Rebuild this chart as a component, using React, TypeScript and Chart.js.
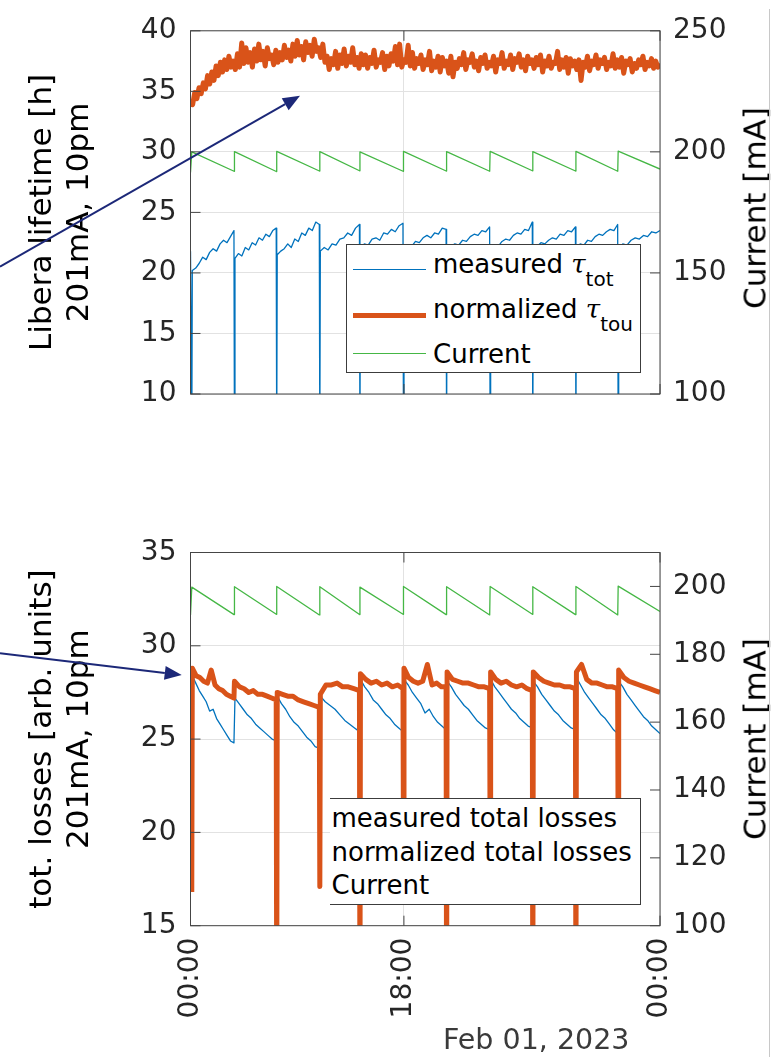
import React, { useEffect, useRef } from 'react';
import { Chart, registerables } from 'chart.js';

Chart.register(...registerables);

const FONT = "'DejaVu Sans', sans-serif";
const BLUE = '#0072BD';
const ORANGE = '#D95319';
const GREEN = '#45B745';
const GRID = '#e2e2e2';
const TICK = '#262626';
const FRAME = '#454545';
const NAVY = '#1c2878';

// ---------------- data ----------------
const END_HOUR = 11;
const xTickHours = [0, 5, 11];
const xTickLabels = ['00:00', '18:00', '00:00'];

// top-up injection instants (hours from left edge)
const injectionHours = [0.03, 1.03, 2.02, 3.03, 3.97, 4.99, 6.0, 7.02, 8.02, 9.03, 10.02];

// top panel: current (right axis)
const currentTopPeaks = [200.0, 200.1, 200.2, 200.1, 200.0, 200.2, 200.1, 200.2, 200.1, 200.2, 200.3];
const currentTopTroughs = [191.5, 192.0, 191.9, 192.1, 192.2, 192.0, 192.1, 192.0, 192.2, 192.1, 192.0];
const currentTopEnd = 192.9;

// top panel: measured lifetime, one array per top-up cycle
const lifetimeMeasuredStart = 21.8;
const lifetimeMeasuredDips = [6, 6, 6, 6, 6, 6, 6, 6, 6, 6, 6];
const lifetimeMeasuredC0 = [20.2, 20.4, 20.8, 21.3, 21.1, 21.7, 22.0, 21.8, 22.4, 22.7, 22.5, 23.0, 23.5];
const lifetimeMeasuredC1 = [21.2, 21.6, 21.4, 22.1, 21.9, 22.5, 22.3, 22.9, 22.7, 23.2, 23.0, 23.5, 23.7];
const lifetimeMeasuredC2 = [21.5, 21.8, 22.0, 22.4, 22.1, 22.8, 22.6, 23.3, 23.1, 23.7, 23.5, 24.2, 24.0];
const lifetimeMeasuredC3 = [21.8, 22.1, 21.9, 22.4, 22.3, 22.8, 22.9, 23.3, 23.1, 23.7, 24.0];
const lifetimeMeasuredC4 = [22.0, 22.4, 22.3, 22.8, 22.9, 22.7, 23.3, 23.2, 23.6, 23.4, 23.9, 24.1];
const lifetimeMeasuredC5 = [22.0, 22.3, 22.2, 22.6, 22.5, 22.9, 23.1, 22.9, 23.3, 23.2, 23.7, 23.6];
const lifetimeMeasuredC6 = [21.9, 22.2, 22.4, 22.3, 22.7, 22.6, 23.0, 23.2, 23.1, 23.5, 23.4, 23.8];
const lifetimeMeasuredC7 = [22.1, 22.3, 22.2, 22.6, 22.8, 22.7, 23.1, 23.3, 23.2, 23.6, 23.5, 24.2];
const lifetimeMeasuredC8 = [22.0, 22.2, 22.5, 22.4, 22.7, 22.9, 22.8, 23.2, 23.1, 23.5, 23.4, 23.8];
const lifetimeMeasuredC9 = [22.1, 22.4, 22.3, 22.7, 22.6, 23.0, 23.2, 23.1, 23.4, 23.6, 23.5, 24.0];
const lifetimeMeasuredC10 = [22.0, 22.4, 22.3, 22.7, 22.9, 22.8, 23.1, 23.0, 23.4, 23.3, 23.5];

// top panel: normalized lifetime, sampled every 0.05 h
const lifetimeNormalizedStep = 0.05;
const lifetimeNormalized = [
  34.3, 33.9, 34.9, 34.4, 35.3, 34.8, 35.7, 35.2, 36.3, 35.6, 36.6, 35.9, 37.1, 36.3, 37.4, 36.6, 37.6, 36.8, 37.9, 37.0, 37.5,
  36.8, 38.1, 37.0, 39.0, 37.3, 38.6, 37.4, 38.2, 37.0, 38.5, 37.5, 38.9, 37.6, 38.3, 37.1, 38.6, 37.7, 38.0, 37.2, 38.4,
  37.4, 38.2, 37.6, 38.8, 37.8, 38.4, 37.5, 38.9, 37.9, 39.2, 38.0, 38.7, 37.6, 39.1, 38.2, 38.8, 37.9, 39.3, 38.3, 38.6,
  37.8, 38.9, 37.4, 37.9, 36.8, 37.7, 37.2, 38.3, 36.9, 38.0, 37.3, 38.5, 37.1, 37.9, 37.4, 38.6, 37.2, 37.8, 36.9, 38.1,
  37.2, 38.0, 36.9, 37.8, 37.3, 38.4, 37.0, 37.6, 37.4, 38.2, 36.8, 37.9, 37.1, 38.1, 37.5, 38.7, 37.2, 38.9, 37.0, 37.6,
  37.4, 38.8, 37.1, 38.2, 36.9, 37.7, 37.3, 38.0, 36.8, 37.6, 37.2, 38.3, 36.7, 37.5, 37.0, 37.9, 36.6, 37.8, 37.1, 37.5,
  36.5, 37.9, 36.2, 37.4, 36.9, 37.7, 37.2, 38.2, 36.8, 37.6, 37.4, 38.1, 37.0, 37.5, 36.7, 37.8, 37.3, 38.0, 36.9, 37.4,
  37.1, 37.9, 36.6, 37.6, 37.3, 38.2, 36.9, 37.5, 37.2, 38.0, 36.8, 37.7, 37.4, 38.1, 37.0, 37.6, 36.7, 37.9, 37.3, 37.6,
  36.9, 37.8, 37.2, 38.0, 36.6, 37.5, 37.1, 37.9, 36.9, 37.4, 37.3, 38.3, 36.8, 37.6, 37.0, 37.8, 36.5, 37.7, 37.1, 37.5,
  36.8, 37.6, 35.9, 37.4, 37.0, 37.9, 36.7, 37.5, 37.2, 38.0, 36.9, 37.6, 37.3, 37.8, 36.8, 37.4, 37.1, 38.1, 36.9, 37.6,
  37.0, 37.8, 36.5, 37.5, 37.2, 37.7, 36.6, 37.3, 36.9, 37.6, 37.2, 37.9, 36.8, 37.4, 37.1, 37.7, 36.9, 37.5, 37.0, 37.3,
];

// bottom panel: current (right axis)
const currentBottomPeaks = [199.8, 199.9, 200.0, 199.9, 199.8, 200.0, 199.9, 200.0, 199.9, 200.0, 200.1];
const currentBottomTroughs = [191.6, 191.7, 191.8, 191.6, 191.7, 191.8, 191.7, 191.6, 191.8, 191.7, 191.6];
const currentBottomEnd = 192.6;

// bottom panel: measured total losses per cycle
const lossMeasuredC0 = [28.4, 28.0, 27.6, 27.3, 27.0, 26.5, 26.6, 26.1, 25.8, 25.5, 25.2, 24.9, 24.8];
const lossMeasuredC1 = [27.2, 26.9, 26.6, 26.3, 26.1, 25.8, 25.6, 25.4, 25.2, 25.0, 24.9];
const lossMeasuredC2 = [27.3, 26.9, 26.6, 26.2, 25.9, 25.7, 25.4, 25.1, 24.9, 24.6, 24.5];
const lossMeasuredC3 = [27.3, 27.0, 26.8, 26.6, 26.3, 26.0, 25.8, 25.6, 25.4];
const lossMeasuredC4 = [28.2, 27.8, 27.5, 27.1, 26.9, 26.6, 26.3, 26.1, 25.8, 25.6, 25.4];
const lossMeasuredC5 = [28.2, 27.9, 27.5, 27.2, 26.9, 26.4, 26.6, 26.2, 25.9, 25.7, 25.5];
const lossMeasuredC6 = [28.1, 27.8, 27.4, 27.1, 26.8, 26.6, 26.3, 26.0, 25.8, 25.6, 25.5];
const lossMeasuredC7 = [28.2, 27.8, 27.5, 27.2, 26.9, 26.6, 26.4, 26.1, 25.9, 25.7, 25.6];
const lossMeasuredC8 = [28.1, 27.8, 27.4, 27.1, 26.8, 26.5, 26.3, 26.0, 25.8, 25.6, 25.5];
const lossMeasuredC9 = [28.3, 27.9, 27.5, 27.2, 26.9, 26.6, 26.3, 26.1, 25.8, 25.5, 25.3];
const lossMeasuredC10 = [28.1, 27.8, 27.4, 27.1, 26.8, 26.5, 26.2, 26.0, 25.7, 25.5, 25.3];

// bottom panel: normalized total losses per cycle, value at each injection instant
const lossNormalizedDips = [16.8, 28.1, 10, 17.1, 10, 19, 10, 19, 10, 10, 19];
const lossNormalizedC0 = [28.8, 28.4, 28.3, 28.1, 28.0, 28.7, 27.9, 27.7, 27.6, 27.4, 27.3, 27.2];
const lossNormalizedC1 = [28.1, 27.8, 27.7, 27.5, 27.6, 27.4, 27.4, 27.3, 27.2, 27.1];
const lossNormalizedC2 = [27.5, 27.4, 27.3, 27.3, 27.1, 27.0, 26.9, 26.8, 26.7];
const lossNormalizedC3 = [27.4, 27.9, 27.9, 28.0, 27.8, 27.8, 27.7, 27.6];
const lossNormalizedC4 = [28.5, 28.2, 28.0, 28.1, 27.9, 28.0, 27.8, 27.9, 27.7];
const lossNormalizedC5 = [28.8, 28.3, 28.1, 28.0, 28.1, 29.0, 27.9, 28.0, 27.8, 27.8];
const lossNormalizedC6 = [28.6, 28.2, 28.1, 28.0, 28.0, 27.9, 27.8, 27.8, 27.7];
const lossNormalizedC7 = [28.6, 28.2, 28.0, 28.1, 27.9, 27.8, 27.9, 27.7, 27.6];
const lossNormalizedC8 = [28.6, 28.3, 28.1, 28.0, 27.9, 27.9, 27.8, 27.8, 27.7];
const lossNormalizedC9 = [28.6, 29.0, 28.2, 28.0, 28.0, 27.9, 27.8, 27.8, 27.7];
const lossNormalizedC10 = [28.7, 28.3, 28.1, 28.0, 27.9, 27.8, 27.7, 27.6, 27.5];

const lifetimeMeasuredCycles = [lifetimeMeasuredC0, lifetimeMeasuredC1, lifetimeMeasuredC2, lifetimeMeasuredC3, lifetimeMeasuredC4, lifetimeMeasuredC5, lifetimeMeasuredC6, lifetimeMeasuredC7, lifetimeMeasuredC8, lifetimeMeasuredC9, lifetimeMeasuredC10];
const lossMeasuredCycles = [lossMeasuredC0, lossMeasuredC1, lossMeasuredC2, lossMeasuredC3, lossMeasuredC4, lossMeasuredC5, lossMeasuredC6, lossMeasuredC7, lossMeasuredC8, lossMeasuredC9, lossMeasuredC10];
const lossNormalizedCycles = [lossNormalizedC0, lossNormalizedC1, lossNormalizedC2, lossNormalizedC3, lossNormalizedC4, lossNormalizedC5, lossNormalizedC6, lossNormalizedC7, lossNormalizedC8, lossNormalizedC9, lossNormalizedC10];

// ---------------- builders ----------------
type Pt = { x: number; y: number };

function buildSawtooth(peaks: number[], troughs: number[], endVal: number): Pt[] {
  const pts: Pt[] = [{ x: 0, y: troughs[0] }];
  injectionHours.forEach((t, k) => {
    if (k > 0) pts.push({ x: t - 0.01, y: troughs[k] });
    pts.push({ x: t, y: peaks[k] });
  });
  pts.push({ x: END_HOUR, y: endVal });
  return pts;
}

function buildCycles(cycles: number[][], dips: number[] | null, startVal: number | null): Pt[] {
  const pts: Pt[] = [];
  if (startVal !== null) pts.push({ x: 0, y: startVal });
  injectionHours.forEach((t, k) => {
    if (dips) pts.push({ x: t, y: dips[k] });
    const last = k + 1 >= injectionHours.length;
    const t0 = t + 0.012;
    const t1 = last ? END_HOUR : injectionHours[k + 1] - 0.012;
    const vals = cycles[k];
    vals.forEach((v, i) => pts.push({ x: t0 + ((t1 - t0) * i) / (vals.length - 1), y: v }));
  });
  return pts;
}

function buildEven(vals: number[], step: number): Pt[] {
  return vals.map((v, i) => ({ x: i * step, y: v }));
}

// ---------------- plugin: frame, inward ticks, arrow ----------------
const framePlugin = {
  id: 'frame',
  afterDatasetsDraw(chart: any) {
    const { ctx, chartArea: a, scales } = chart;
    ctx.save();
    ctx.strokeStyle = FRAME;
    ctx.lineWidth = 1;
    ctx.strokeRect(a.left, a.top, a.right - a.left, a.bottom - a.top);
    const L = 10;
    ctx.beginPath();
    scales.y.ticks.forEach((t: any) => {
      const p = scales.y.getPixelForValue(t.value);
      ctx.moveTo(a.left, p);
      ctx.lineTo(a.left + L, p);
    });
    scales.y1.ticks.forEach((t: any) => {
      const p = scales.y1.getPixelForValue(t.value);
      ctx.moveTo(a.right, p);
      ctx.lineTo(a.right - L, p);
    });
    scales.x.ticks.forEach((t: any) => {
      const p = scales.x.getPixelForValue(t.value);
      ctx.moveTo(p, a.bottom);
      ctx.lineTo(p, a.bottom - L);
      ctx.moveTo(p, a.top);
      ctx.lineTo(p, a.top + L);
    });
    ctx.stroke();
    ctx.restore();
  },
  afterDraw(chart: any, _args: any, opts: any) {
    const arrow = opts && opts.arrow;
    if (!arrow) return;
    const { ctx, scales } = chart;
    const tipX = scales.x.getPixelForValue(arrow.tipHour);
    const tipY = scales.y.getPixelForValue(arrow.tipValue);
    const tx = arrow.tailX;
    const ty = arrow.tailY;
    const ang = Math.atan2(tipY - ty, tipX - tx);
    const hl = 17;
    const hw = 7;
    const bx = tipX - hl * Math.cos(ang);
    const by = tipY - hl * Math.sin(ang);
    ctx.save();
    ctx.strokeStyle = NAVY;
    ctx.fillStyle = NAVY;
    ctx.lineWidth = 2;
    ctx.beginPath();
    ctx.moveTo(tx, ty);
    ctx.lineTo(bx, by);
    ctx.stroke();
    ctx.beginPath();
    ctx.moveTo(tipX, tipY);
    ctx.lineTo(bx - hw * Math.sin(ang), by + hw * Math.cos(ang));
    ctx.lineTo(bx + hw * Math.sin(ang), by - hw * Math.cos(ang));
    ctx.closePath();
    ctx.fill();
    ctx.restore();
  },
};

// ---------------- scale helpers ----------------
function xScale(showLabels: boolean, height: number) {
  return {
    type: 'linear',
    position: 'bottom',
    min: 0,
    max: END_HOUR,
    afterBuildTicks: (s: any) => {
      s.ticks = xTickHours.map((v) => ({ value: v }));
    },
    afterFit: (s: any) => {
      s.height = height;
    },
    grid: { color: GRID, drawTicks: false },
    border: { display: false },
    ticks: {
      display: showLabels,
      autoSkip: false,
      minRotation: 90,
      maxRotation: 90,
      padding: 12,
      color: TICK,
      font: { size: 28, family: FONT },
      callback: (_v: any, i: number) => xTickLabels[i],
    },
  };
}

function leftScale(min: number, max: number, step: number, title: string[]) {
  return {
    type: 'linear',
    position: 'left',
    min,
    max,
    afterFit: (s: any) => {
      s.width = 190.5;
    },
    grid: { color: GRID, drawTicks: false },
    border: { display: false },
    ticks: { stepSize: step, padding: 14, color: TICK, font: { size: 28, family: FONT } },
    title: {
      display: true,
      text: title,
      color: '#000',
      font: { size: 31, family: FONT, lineHeight: 1.19 },
      padding: { top: 25, bottom: 0 },
    },
  };
}

function rightScale(min: number, max: number, step: number) {
  return {
    type: 'linear',
    position: 'right',
    min,
    max,
    afterFit: (s: any) => {
      s.width = 123;
    },
    grid: { drawOnChartArea: false, drawTicks: false },
    border: { display: false },
    ticks: { stepSize: step, includeBounds: false, padding: 13, color: TICK, font: { size: 28, family: FONT } },
  };
}

function lineDs(data: Pt[], color: string, width: number, axis: string) {
  return {
    data,
    yAxisID: axis,
    borderColor: color,
    backgroundColor: color,
    borderWidth: width,
    pointRadius: 0,
    tension: 0,
    borderJoinStyle: 'round',
    clip: 0,
  };
}

const TOP_H = 480;
const BOT_TOP = 480;
const BOT_H = 577;

export default function App() {
  const topRef = useRef<HTMLCanvasElement>(null);
  const botRef = useRef<HTMLCanvasElement>(null);

  useEffect(() => {
    Chart.defaults.font.family = FONT;
    const top = new Chart(topRef.current as HTMLCanvasElement, {
      type: 'line',
      data: {
        datasets: [
          lineDs(buildEven(lifetimeNormalized, lifetimeNormalizedStep), ORANGE, 5, 'y'),
          lineDs(buildCycles(lifetimeMeasuredCycles, lifetimeMeasuredDips, lifetimeMeasuredStart), BLUE, 1.3, 'y'),
          lineDs(buildSawtooth(currentTopPeaks, currentTopTroughs, currentTopEnd), GREEN, 1.3, 'y1'),
        ],
      },
      options: {
        responsive: false,
        animation: false,
        events: [],
        layout: { padding: { top: 21.7, left: 0, right: 0, bottom: 0 } },
        plugins: {
          legend: { display: false },
          tooltip: { enabled: false },
          frame: { arrow: { tailX: 0, tailY: 266.7, tipHour: 2.565, tipValue: 34.63 } },
        } as any,
        scales: {
          x: xScale(false, TOP_H - 394),
          y: leftScale(10, 40, 5, ['Libera lifetime [h]', '201mA, 10pm']),
          y1: rightScale(100, 250, 50),
        } as any,
      },
      plugins: [framePlugin],
    } as any);

    const bot = new Chart(botRef.current as HTMLCanvasElement, {
      type: 'line',
      data: {
        datasets: [
          lineDs(buildCycles(lossNormalizedCycles, lossNormalizedDips, null), ORANGE, 5, 'y'),
          lineDs(buildCycles(lossMeasuredCycles, null, null), BLUE, 1.3, 'y'),
          lineDs(buildSawtooth(currentBottomPeaks, currentBottomTroughs, currentBottomEnd), GREEN, 1.3, 'y1'),
        ],
      },
      options: {
        responsive: false,
        animation: false,
        events: [],
        layout: { padding: { top: 552.5 - BOT_TOP, left: 0, right: 0, bottom: 0 } },
        plugins: {
          legend: { display: false },
          tooltip: { enabled: false },
          frame: { arrow: { tailX: 0, tailY: 653.3 - BOT_TOP, tipHour: -0.206, tipValue: 28.44 } },
        } as any,
        scales: {
          x: xScale(true, BOT_TOP + BOT_H - 925.7),
          y: leftScale(15, 35, 5, ['tot. losses [arb. units]', '201mA, 10pm']),
          y1: rightScale(100, 210, 20),
        } as any,
      },
      plugins: [framePlugin],
    } as any);

    return () => {
      top.destroy();
      bot.destroy();
    };
  }, []);

  const abs = (s: React.CSSProperties): React.CSSProperties => ({ position: 'absolute', ...s });
  const textBase: React.CSSProperties = {
    position: 'absolute',
    fontFamily: FONT,
    fontSize: 26,
    lineHeight: '26px',
    whiteSpace: 'nowrap',
    color: '#000',
  };
  // top = baseline - 0.846 * fontSize (DejaVu Sans, line-height = font-size)
  const at = (left: number, baseline: number, size = 26): React.CSSProperties => ({
    ...textBase,
    fontSize: size,
    lineHeight: size + 'px',
    left,
    top: baseline - 0.846 * size,
  });
  const tau: React.CSSProperties = { fontFamily: "'DejaVu Serif', serif", fontStyle: 'italic' };
  const sub: React.CSSProperties = { fontSize: 20, position: 'relative', top: 13 };

  const rotTitle = (cx: number, cy: number, text: string) => (
    <div
      style={{
        position: 'absolute',
        left: cx,
        top: cy,
        transform: 'translate(-50%, -50%) rotate(-90deg)',
        fontFamily: FONT,
        fontSize: 31,
        lineHeight: '31px',
        whiteSpace: 'nowrap',
        color: '#000',
      }}
    >
      {text}
    </div>
  );

  return (
    <div style={{ position: 'absolute', left: 0, top: 0, width: 783, height: 1057, background: '#fff', overflow: 'hidden' }}>
      <canvas ref={topRef} width={783} height={TOP_H} style={abs({ left: 0, top: 0, width: 783, height: TOP_H })} />
      <canvas ref={botRef} width={783} height={BOT_H} style={abs({ left: 0, top: BOT_TOP, width: 783, height: BOT_H })} />

      {/* top legend */}
      <div style={abs({ left: 346, top: 244, width: 295, height: 129, boxSizing: 'border-box', border: '1px solid #3c3c3c', background: '#fff' })} />
      <div style={abs({ left: 353, top: 268.5, width: 73, height: 1.5, background: BLUE })} />
      <div style={abs({ left: 353, top: 312.5, width: 73, height: 5, background: ORANGE })} />
      <div style={abs({ left: 353, top: 352.5, width: 73, height: 1.5, background: GREEN })} />
      <div style={at(433, 273.3)}>
        measured <span style={tau}>τ</span>
        <span style={sub}>tot</span>
      </div>
      <div style={at(433, 318.3)}>
        normalized <span style={tau}>τ</span>
        <span style={sub}>tou</span>
      </div>
      <div style={at(433, 363.3)}>Current</div>

      {/* bottom legend */}
      <div
        style={abs({
          left: 330,
          top: 797.5,
          width: 311,
          height: 107.5,
          boxSizing: 'border-box',
          borderTop: '1px solid #3c3c3c',
          borderRight: '1px solid #3c3c3c',
          borderBottom: '1px solid #3c3c3c',
          background: '#fff',
        })}
      />
      <div style={at(331.5, 826.7)}>measured total losses</div>
      <div style={at(331.5, 861.3)}>normalized total losses</div>
      <div style={at(331.5, 893.8)}>Current</div>

      {rotTitle(755, 208, 'Current [mA]')}
      {rotTitle(755, 739, 'Current [mA]')}

      <div style={{ ...at(443, 1050, 28.5), color: '#3a3a3a' }}>Feb 01, 2023</div>

      <div style={abs({ left: 769, top: 9, width: 1, height: 1048, background: '#c8c8c8' })} />
    </div>
  );
}
